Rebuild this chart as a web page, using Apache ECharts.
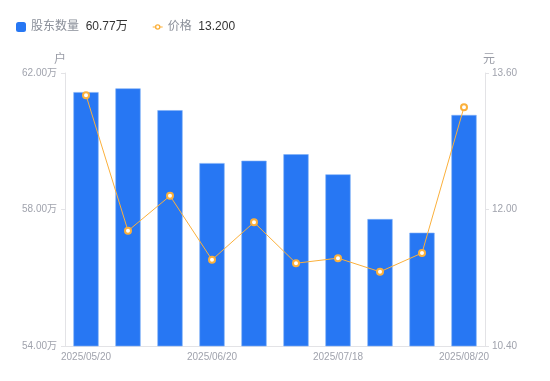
<!DOCTYPE html>
<html><head><meta charset="utf-8">
<script src="https://cdn.jsdelivr.net/npm/echarts@6/dist/echarts.min.js"></script>
<style>html,body{margin:0;padding:0;background:#fff}#c{width:550px;height:381px}</style>
</head><body><div id="c"></div>
<script>
const categories = ['2025/05/20','2025/05/30','2025/06/10','2025/06/20','2025/06/30','2025/07/10','2025/07/18','2025/07/31','2025/08/10','2025/08/20'];
const holders = [61.44, 61.55, 60.91, 59.36, 59.43, 59.62, 59.03, 57.72, 57.32, 60.77];
const prices = [13.34, 11.75, 12.16, 11.41, 11.85, 11.37, 11.43, 11.27, 11.49, 13.20];
const leftTicks = {min: 54, max: 62, interval: 4};
const rightTicks = {min: 10.4, max: 13.6, interval: 1.6};

const font = '"Liberation Sans", "Noto Sans CJK SC", sans-serif';
const lineIcon = 'path://M0,4.5L2.3,4.5L2.3,5.5L0,5.5Z M7.7,4.5L10,4.5L10,5.5L7.7,5.5Z M2.2,5A2.8,2.8 0 1,1 7.8,5A2.8,2.8 0 1,1 2.2,5Z M3.6,5A1.4,1.4 0 1,0 6.4,5A1.4,1.4 0 1,0 3.6,5Z';
const chart = echarts.init(document.getElementById('c'));
chart.setOption({
  animation: false,
  textStyle: {fontFamily: font},
  legend: {
    left: 11, top: 16, itemWidth: 10, itemHeight: 10, itemGap: 25,
    data: [
      {name: '股东数量', icon: 'roundRect', itemStyle: {color: '#2777f3', borderWidth: 0}},
      {name: '价格', icon: lineIcon, itemStyle: {color: '#fbb03b', borderWidth: 0}}
    ],
    formatter: function (name) {
      if (name === '股东数量') return '{a|' + name + '}  {b|' + holders[holders.length - 1].toFixed(2) + '万}';
      return '{a|' + name + '}  {b|' + prices[prices.length - 1].toFixed(3) + '}';
    },
    textStyle: {
      rich: {
        a: {color: '#8a8f99', fontSize: 12, fontFamily: font},
        b: {color: '#333', fontSize: 12, fontFamily: font}
      }
    }
  },
  grid: {left: 65, right: 65, top: 73, bottom: 35},
  xAxis: {
    type: 'category', data: categories,
    axisLine: {lineStyle: {color: '#e3e3e6'}},
    axisTick: {show: false},
    axisLabel: {color: '#a0a3ad', fontSize: 10, interval: 2, margin: 6, fontFamily: font}
  },
  yAxis: [
    {
      type: 'value', name: '户', min: leftTicks.min, max: leftTicks.max, interval: leftTicks.interval,
      nameTextStyle: {color: '#999ca6', fontSize: 12, padding: [0, 10, 0, 0], fontFamily: font}, nameGap: 7,
      axisLine: {show: true, lineStyle: {color: '#e3e3e6'}},
      axisTick: {show: true, length: 4, lineStyle: {color: '#e3e3e6'}},
      splitLine: {show: false},
      axisLabel: {color: '#a0a3ad', fontSize: 10, margin: 8, fontFamily: font, formatter: v => v.toFixed(2) + '万'}
    },
    {
      type: 'value', name: '元', min: rightTicks.min, max: rightTicks.max, interval: rightTicks.interval,
      nameTextStyle: {color: '#999ca6', fontSize: 12, padding: [0, 0, 0, 8], fontFamily: font}, nameGap: 7,
      axisLine: {show: true, lineStyle: {color: '#e3e3e6'}},
      axisTick: {show: true, length: 4, lineStyle: {color: '#e3e3e6'}},
      splitLine: {show: false},
      axisLabel: {color: '#a0a3ad', fontSize: 10, margin: 7, fontFamily: font, formatter: v => v.toFixed(2)}
    }
  ],
  series: [
    {
      name: '股东数量', type: 'bar', data: holders, barWidth: '60%', yAxisIndex: 0,
      itemStyle: {color: '#2777f3', borderColor: '#7fb0f7', borderWidth: 0.6}
    },
    {
      name: '价格', type: 'line', data: prices, yAxisIndex: 1,
      symbol: 'circle', symbolSize: 6,
      lineStyle: {color: '#fbb03b', width: 1},
      itemStyle: {color: '#fff', borderColor: '#fbb03b', borderWidth: 2}
    }
  ]
});
</script></body></html>
